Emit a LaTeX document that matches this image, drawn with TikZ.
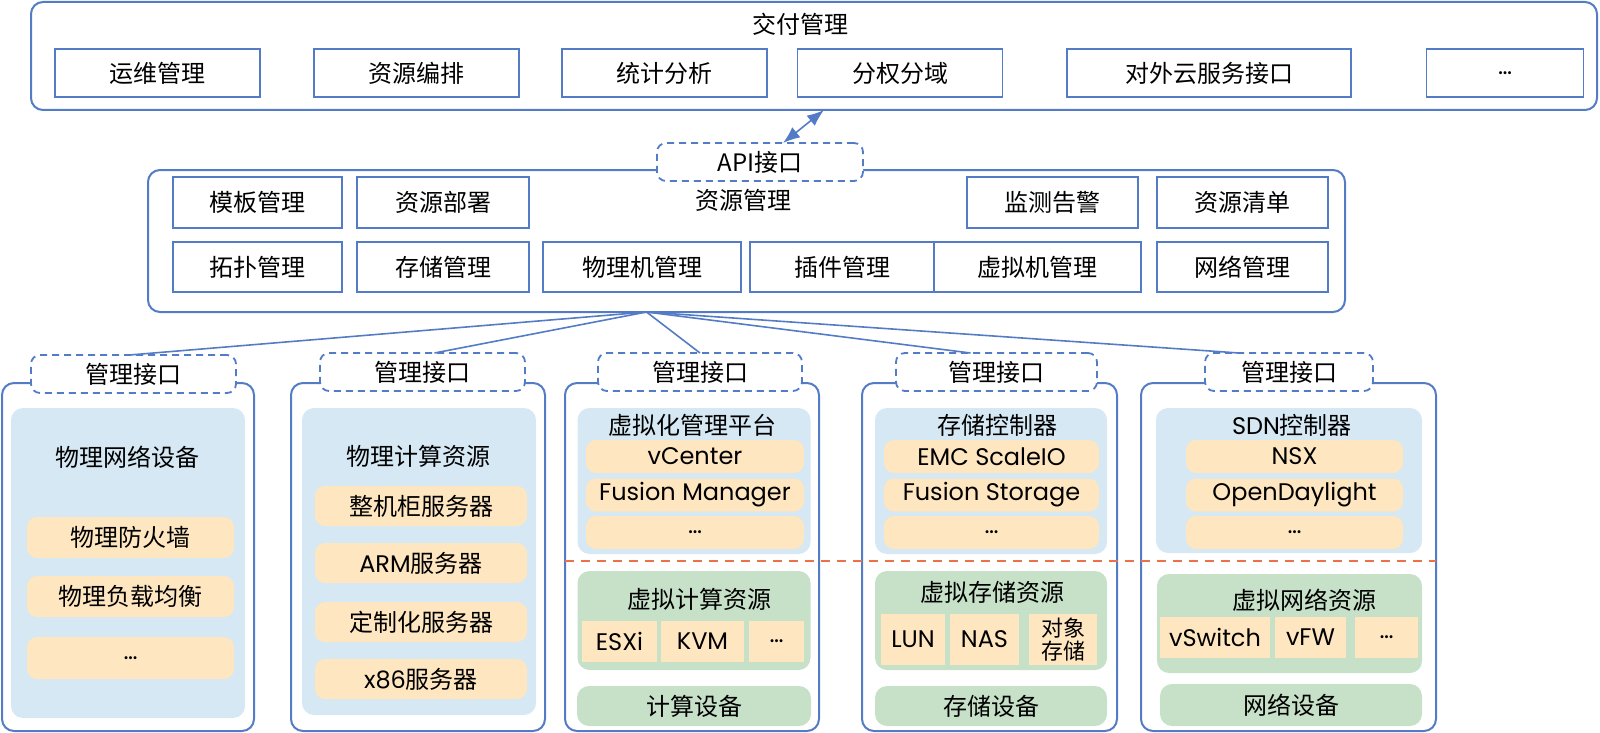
\documentclass[tikz,border=0pt]{standalone}
\usepackage{fontspec}
\setmainfont{Noto Sans CJK SC}
\newfontfamily\geo{Poppins}
\usetikzlibrary{arrows.meta,calc}
\definecolor{frameblue}{RGB}{84,124,198}
\definecolor{skyfill}{RGB}{213,232,243}
\definecolor{peachfill}{RGB}{254,230,193}
\definecolor{greenfill}{RGB}{198,225,200}
\definecolor{cutred}{RGB}{237,112,72}
\tikzset{
  outerbox/.style={draw=frameblue, line width=2pt, rounded corners=12pt, inner sep=0pt, outer sep=0pt},
  box/.style={draw=frameblue, line width=1.8pt, inner sep=0pt, outer sep=0pt},
  ifbox/.style={draw=frameblue, line width=1.8pt, dash pattern=on 7pt off 5pt, rounded corners=9pt, fill=white, inner sep=0pt, outer sep=0pt},
  skybox/.style={fill=skyfill, rounded corners=12pt, inner sep=0pt},
  peachbox/.style={fill=peachfill, rounded corners=10pt, inner sep=0pt},
  peachcell/.style={fill=peachfill, inner sep=0pt},
  greenbox/.style={fill=greenfill, rounded corners=12pt, inner sep=0pt},
  wire/.style={draw=frameblue, line width=1.6pt},
  sepline/.style={draw=cutred, line width=2pt, dash pattern=on 9pt off 7pt},
}

\begin{document}
\begin{tikzpicture}[x=1pt, y=-1pt, font=\fontsize{24}{28}\selectfont]
\useasboundingbox (0,0) rectangle (1600,733);

\node[outerbox, minimum width=1566pt, minimum height=108pt] (deliver) at (814,56) {};
\node (deliverT) at (800,24) {交付管理};
\node[box, minimum width=205pt, minimum height=48pt] (ops) at (157.5,73) {运维管理};
\node[box, minimum width=205pt, minimum height=48pt] (orch) at (416.5,73) {资源编排};
\node[box, minimum width=205pt, minimum height=48pt] (stat) at (664.5,73) {统计分析};
\node[box, minimum width=205pt, minimum height=48pt] (auth) at (900,73) {分权分域};
\node[box, minimum width=284pt, minimum height=48pt] (cloud) at (1209,73) {对外云服务接口};
\node[box, minimum width=157pt, minimum height=48pt] (more) at (1505,73) {\geo …};

\node[outerbox, minimum width=1197pt, minimum height=142pt] (res) at (746.5,241) {};
\node (resT) at (743,200) {资源管理};
\node[box, minimum width=169pt, minimum height=51pt] (tpl) at (257.5,202.5) {模板管理};
\node[box, minimum width=172pt, minimum height=51pt] (deploy) at (443,202.5) {资源部署};
\node[box, minimum width=171pt, minimum height=51pt] (monitor) at (1052.5,202.5) {监测告警};
\node[box, minimum width=171pt, minimum height=51pt] (inventory) at (1242.5,202.5) {资源清单};
\node[box, minimum width=169pt, minimum height=50pt] (topo) at (257.5,267) {拓扑管理};
\node[box, minimum width=172pt, minimum height=50pt] (storm) at (443,267) {存储管理};
\node[box, minimum width=198pt, minimum height=50pt] (physm) at (642,267) {物理机管理};
\node[box, minimum width=184pt, minimum height=50pt] (plugin) at (842,267) {插件管理};
\node[box, minimum width=207pt, minimum height=50pt] (vmm) at (1037.5,267) {虚拟机管理};
\node[box, minimum width=171pt, minimum height=50pt] (netm) at (1242.5,267) {网络管理};

\node[ifbox, minimum width=206pt, minimum height=38pt] (api) at (760,162) {API接口};
\draw[wire, {Latex[length=17pt,width=13pt]}-{Latex[length=17pt,width=13pt]}] ([xshift=23pt]api.north) -- ([xshift=10pt]deliver.south);

\coordinate (hub) at ($(res.south)+(-100,0)$);

\node[outerbox, minimum width=252pt, minimum height=348pt] (col1) at (128,557) {};
\node[outerbox, minimum width=254pt, minimum height=348pt] (col2) at (418,557) {};
\node[outerbox, minimum width=254pt, minimum height=348pt] (col3) at (692,557) {};
\node[outerbox, minimum width=255pt, minimum height=348pt] (col4) at (989.5,557) {};
\node[outerbox, minimum width=295pt, minimum height=348pt] (col5) at (1288.5,557) {};
\draw[sepline] (565,561) -- (1436,561);

\node[ifbox, minimum width=205pt, minimum height=38pt] (if1) at (133.5,374) {管理接口};
\node[ifbox, minimum width=205pt, minimum height=38pt] (if2) at (422.5,372) {管理接口};
\node[ifbox, minimum width=204pt, minimum height=38pt] (if3) at (700,372) {管理接口};
\node[ifbox, minimum width=201pt, minimum height=38pt] (if4) at (996.5,372) {管理接口};
\node[ifbox, minimum width=168pt, minimum height=38pt] (if5) at (1289,372) {管理接口};
\draw[wire] (hub) -- ([xshift=-4pt]if1.north);
\draw[wire] (hub) -- ([xshift=12pt]if2.north);
\draw[wire] (hub) -- (if3.north);
\draw[wire] (hub) -- ([xshift=-26pt]if4.north);
\draw[wire] (hub) -- ([xshift=-50pt]if5.north);

\node[skybox, minimum width=234pt, minimum height=310pt] (pnet) at (128,563) {};
\node (pnetT) at (127,457) {物理网络设备};
\node[peachbox, minimum width=207pt, minimum height=41pt] (fw) at (130.5,537.5) {物理防火墙};
\node[peachbox, minimum width=207pt, minimum height=41pt] (lb) at (130.5,596.5) {物理负载均衡};
\node[peachbox, minimum width=207pt, minimum height=42pt] (pnetx) at (130.5,658) {\geo …};

\node[skybox, minimum width=234pt, minimum height=307pt] (pcmp) at (419,561.5) {};
\node (pcmpT) at (418,456) {物理计算资源};
\node[peachbox, minimum width=212pt, minimum height=40pt] (rack) at (421,506) {整机柜服务器};
\node[peachbox, minimum width=212pt, minimum height=40pt] (arm) at (421,563) {{\geo ARM}服务器};
\node[peachbox, minimum width=212pt, minimum height=40pt] (custom) at (421,622) {定制化服务器};
\node[peachbox, minimum width=212pt, minimum height=40pt] (x86) at (421,679) {{\geo x86}服务器};

\node[skybox, minimum width=233pt, minimum height=146pt] (vplat) at (694,481) {};
\node (vplatT) at (692,425) {虚拟化管理平台};
\node[peachbox, minimum width=218pt, minimum height=33pt] (vc) at (695,456.5) {\geo vCenter};
\node[peachbox, minimum width=218pt, minimum height=33pt] (fm) at (695,495) {\geo Fusion Manager};
\node[peachbox, minimum width=218pt, minimum height=33pt] (vplatx) at (695,532.5) {\geo …};
\node[greenbox, minimum width=233pt, minimum height=99pt] (vcmp) at (694,620.5) {};
\node (vcmpT) at (699,599) {虚拟计算资源};
\node[peachcell, minimum width=75pt, minimum height=41pt] (esxi) at (619.5,641.5) {\geo ESXi};
\node[peachcell, minimum width=83pt, minimum height=41pt] (kvm) at (702.5,641.5) {\geo KVM};
\node[peachcell, minimum width=55pt, minimum height=41pt] (vcmpx) at (776.5,641.5) {\geo …};
\node[greenbox, minimum width=234pt, minimum height=40pt] (cdev) at (694,706) {计算设备};

\node[skybox, minimum width=232pt, minimum height=146pt] (sctl) at (991,481) {};
\node (sctlT) at (997,425) {存储控制器};
\node[peachbox, minimum width=215pt, minimum height=33pt] (emc) at (991.5,456.5) {\geo EMC ScaleIO};
\node[peachbox, minimum width=215pt, minimum height=33pt] (fs) at (991.5,495) {\geo Fusion Storage};
\node[peachbox, minimum width=215pt, minimum height=33pt] (sctlx) at (991.5,532.5) {\geo …};
\node[greenbox, minimum width=232pt, minimum height=99pt] (vsto) at (991,620.5) {};
\node (vstoT) at (992,592) {虚拟存储资源};
\node[peachcell, minimum width=64pt, minimum height=51pt] (lun) at (913,639.5) {\geo LUN};
\node[peachcell, minimum width=69pt, minimum height=51pt] (nas) at (984.5,639.5) {\geo NAS};
\node[peachcell, minimum width=68pt, minimum height=51pt, align=center, font=\fontsize{22}{23}\selectfont] (obj) at (1063,639.5) {对象\\存储};
\node[greenbox, minimum width=232pt, minimum height=40pt] (sdev) at (991,706) {存储设备};

\node[skybox, minimum width=266pt, minimum height=145pt] (sdn) at (1289,480.5) {};
\node (sdnT) at (1292,425) {{\geo SDN}控制器};
\node[peachbox, minimum width=217pt, minimum height=33pt] (nsx) at (1294.5,456.5) {\geo NSX};
\node[peachbox, minimum width=217pt, minimum height=33pt] (odl) at (1294.5,495) {\geo OpenDaylight};
\node[peachbox, minimum width=217pt, minimum height=33pt] (sdnx) at (1294.5,532.5) {\geo …};
\node[greenbox, minimum width=265pt, minimum height=99pt] (vnet) at (1289.5,623.5) {};
\node (vnetT) at (1304,600) {虚拟网络资源};
\node[peachcell, minimum width=110pt, minimum height=41pt] (vsw) at (1215,637.5) {\geo vSwitch};
\node[peachcell, minimum width=71pt, minimum height=41pt] (vfw) at (1310.5,637.5) {\geo vFW};
\node[peachcell, minimum width=63pt, minimum height=41pt] (vnetx) at (1386.5,637.5) {\geo …};
\node[greenbox, minimum width=262pt, minimum height=42pt] (ndev) at (1291,705) {网络设备};
\end{tikzpicture}
\end{document}
